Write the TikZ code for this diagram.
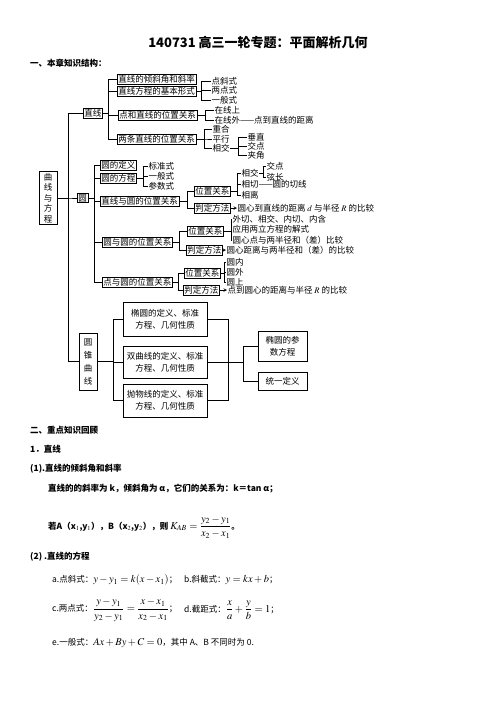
\documentclass[tikz,border=0pt]{standalone}
\usepackage{mathptmx}
\usepackage{amsmath}
\usepackage{fontspec}
\setmainfont{Noto Sans CJK SC}
\usetikzlibrary{positioning}

\newcommand{\fm}[1]{{\fontsize{10.5}{12}\selectfont$#1$}}

\tikzstyle{topic} = [draw,line width=0.6pt,inner sep=1pt,anchor=west,font=\fontsize{8.5}{10}\selectfont]
\tikzstyle{leaf} = [inner sep=0.3pt,anchor=west,font=\fontsize{8.5}{10}\selectfont]
\tikzstyle{vtopic} = [draw,line width=0.6pt,align=center,inner sep=0.5pt,minimum width=18]
\tikzstyle{cbox} = [draw,line width=0.6pt,align=center,inner sep=1pt,font=\fontsize{8.5}{12}\selectfont]
\tikzstyle{edge} = [draw,line width=0.6pt]
\tikzstyle{judge} = [->,>=stealth,line width=0.6pt]
\tikzstyle{heading} = [anchor=west,inner sep=0pt,font=\bfseries\fontsize{8.5}{10}\selectfont]
\tikzstyle{body} = [anchor=west,inner sep=0pt,font=\fontsize{8.5}{10}\selectfont]

\begin{document}
\begin{tikzpicture}[x=1pt,y=-1pt]
      \useasboundingbox (0,0) rectangle (496,702);
      %title
      \node[font=\bfseries\fontsize{13}{15}\selectfont] (title) at (258,43) {140731 高三一轮专题：平面解析几何};
      \node[heading] (sec1) at (30,63) {一、本章知识结构：};

      %framed topics
      \node[vtopic,minimum height=53,font=\fontsize{8.5}{10.6}\selectfont] (qx) at (48,198) {曲\\线\\与\\方\\程};
      \node[vtopic,minimum height=57,font=\fontsize{8.5}{13}\selectfont] (zs) at (88,361.5) {圆\\锥\\曲\\线};
      \foreach \nodename/\x/\y/\words in {
        zx/83/113/直线,
        zxA/117/79/直线的倾斜角和斜率,
        zxB/117/91/直线方程的基本形式,
        zxC/118/115/点和直线的位置关系,
        zxD/117/139/两条直线的位置关系,
        yuan/77/198/圆,
        yA/100/165/圆的定义,
        yB/100/178/圆的方程,
        yC/100/201/直线与圆的位置关系,
        yD/102/242/圆与圆的位置关系,
        yE/102/282/点与圆的位置关系,
        yCa/194/191/位置关系, yCb/194/208/判定方法,
        yDa/187/231/位置关系, yDb/186/250/判定方法,
        yEa/184/273/位置关系, yEb/183/290/判定方法}
      {
        \node[topic] (\nodename) at (\x,\y) {\words};
      };

      %leaves
      \foreach \nodename/\x/\y/\words in {
        dxs/211/81/点斜式, lds/211/90/两点式, ybs/211/100/一般式,
        zxs/214/110/在线上, zxw/214/120/在线外——点到直线的距离,
        chh/212/129.5/重合, pxx/212/139/平行, xjx/212/148.5/相交,
        czz/247/137/垂直, jdx/247/146/交点, jjx/247/155/夹角,
        bzs/148/166/标准式, ybsy/148/176/一般式, css/148/186/参数式,
        xjy/241/173/相交, xqy/241/184/相切——圆的切线, xly/241/195/相离,
        jdy/266/166/交点, xcy/266/177/弦长,
        wq/232/219/外切、相交、内切、内含,
        yy/232/229/应用两立方程的解式,
        yxd/232/240/圆心点与两半径和（差）比较,
        yn/226/262/圆内, yw/226/272/圆外, ys/226/282/圆上,
        yCt/237/208/圆心到直线的距离 $d$ 与半径 $R$ 的比较,
        yDt/226/250/圆心距离与两半径和（差）的比较,
        yEt/227/290/点到圆心的距离与半径 $R$ 的比较}
      {
        \node[leaf] (\nodename) at (\x,\y) {\words};
      };

      %conic boxes
      \node[cbox,minimum width=84,minimum height=34] (ty) at (165,319) {椭圆的定义、标准\\方程、几何性质};
      \node[cbox,minimum width=84,minimum height=32] (sqx) at (165,362) {双曲线的定义、标准\\方程、几何性质};
      \node[cbox,minimum width=84,minimum height=33] (pwx) at (165,400.5) {抛物线的定义、标准\\方程、几何性质};
      \node[cbox,minimum width=49,minimum height=30] (tycs) at (282.5,346) {椭圆的参\\数方程};
      \node[cbox,minimum width=49,minimum height=18] (tyyd) at (282.5,381) {统一定义};

      %spines
      \foreach \s/\x in {s0/68, s1/108, s2/201, s3/205, s4/204, s5/238, s6/94, s7/143,
        s8/187, s9/237, s10/263, s11/179, s12/231, s13/178, s14/224, s15/113, s16/228, s17/243}
        \coordinate (\s) at (\x,0);

      %edges
      \foreach \p/\s/\c in {
        qx/s0/zx, qx/s0/yuan, qx/s0/zs,
        zx/s1/zxA, zx/s1/zxB, zx/s1/zxC, zx/s1/zxD,
        zxB/s2/dxs, zxB/s2/lds, zxB/s2/ybs,
        zxC/s3/zxs, zxC/s3/zxw,
        zxD/s4/chh, zxD/s4/pxx, zxD/s4/xjx,
        xjx/s5/czz, xjx/s5/jdx, xjx/s5/jjx,
        yuan/s6/yA, yuan/s6/yB, yuan/s6/yC, yuan/s6/yD, yuan/s6/yE,
        yB/s7/bzs, yB/s7/ybsy, yB/s7/css,
        yC/s8/yCa, yC/s8/yCb,
        yCa/s9/xjy, yCa/s9/xqy, yCa/s9/xly,
        xjy/s10/jdy, xjy/s10/xcy,
        yD/s11/yDa, yD/s11/yDb,
        yDa/s12/wq, yDa/s12/yy, yDa/s12/yxd,
        yE/s13/yEa, yE/s13/yEb,
        yEa/s14/yn, yEa/s14/yw, yEa/s14/ys,
        zs/s15/ty, zs/s15/sqx, zs/s15/pwx}
      {
        \draw[edge] (\p.east) -- (\p.east -| \s) |- (\c.west);
      };
      \foreach \p/\c in {yCb/yCt, yDb/yDt, yEb/yEt}
        \draw[judge] (\p.east) -- (\c.west);
      \foreach \c in {ty, sqx, pwx}
        \draw[edge] (\c.east) -- (\c.east -| s16);
      \draw[edge] (ty.east -| s16) -- (pwx.east -| s16);
      \draw[edge] (sqx.east -| s16) -- (sqx.east -| s17);
      \foreach \c in {tycs, tyyd}
        \draw[edge] (sqx.east -| s17) |- (\c.west);

      %review
      \node[heading] (sec2) at (30,430) {二、重点知识回顾};
      \node[heading] (sub1) at (30,449) {1．直线};
      \node[heading] (sub11) at (30,469) {(1).直线的倾斜角和斜率};
      \node[heading] (rel) at (48,489) {直线的的斜率为 k，倾斜角为 α，它们的关系为：k＝tan α；};
      \node[heading] (kab) at (48,527) {若A（x$_1$,y$_1$），B（x$_2$,y$_2$），则 \fm{K_{AB}=\dfrac{y_2-y_1}{x_2-x_1}}。};
      \node[heading] (sub12) at (30,557) {(2) .直线的方程};
      \node[body] (fa) at (52,580) {a.点斜式：\fm{y-y_1=k(x-x_1)}；};
      \node[body] (fb) at (184,580) {b.斜截式：\fm{y=kx+b}；};
      \node[body] (fc) at (52,610) {c.两点式：\fm{\dfrac{y-y_1}{y_2-y_1}=\dfrac{x-x_1}{x_2-x_1}}；};
      \node[body] (fd) at (184,610) {d.截距式：\fm{\dfrac{x}{a}+\dfrac{y}{b}=1}；};
      \node[body] (fe) at (52,643) {e.一般式：\fm{Ax+By+C=0}，其中 A、B 不同时为 0.};
    \end{tikzpicture}
\end{document}
